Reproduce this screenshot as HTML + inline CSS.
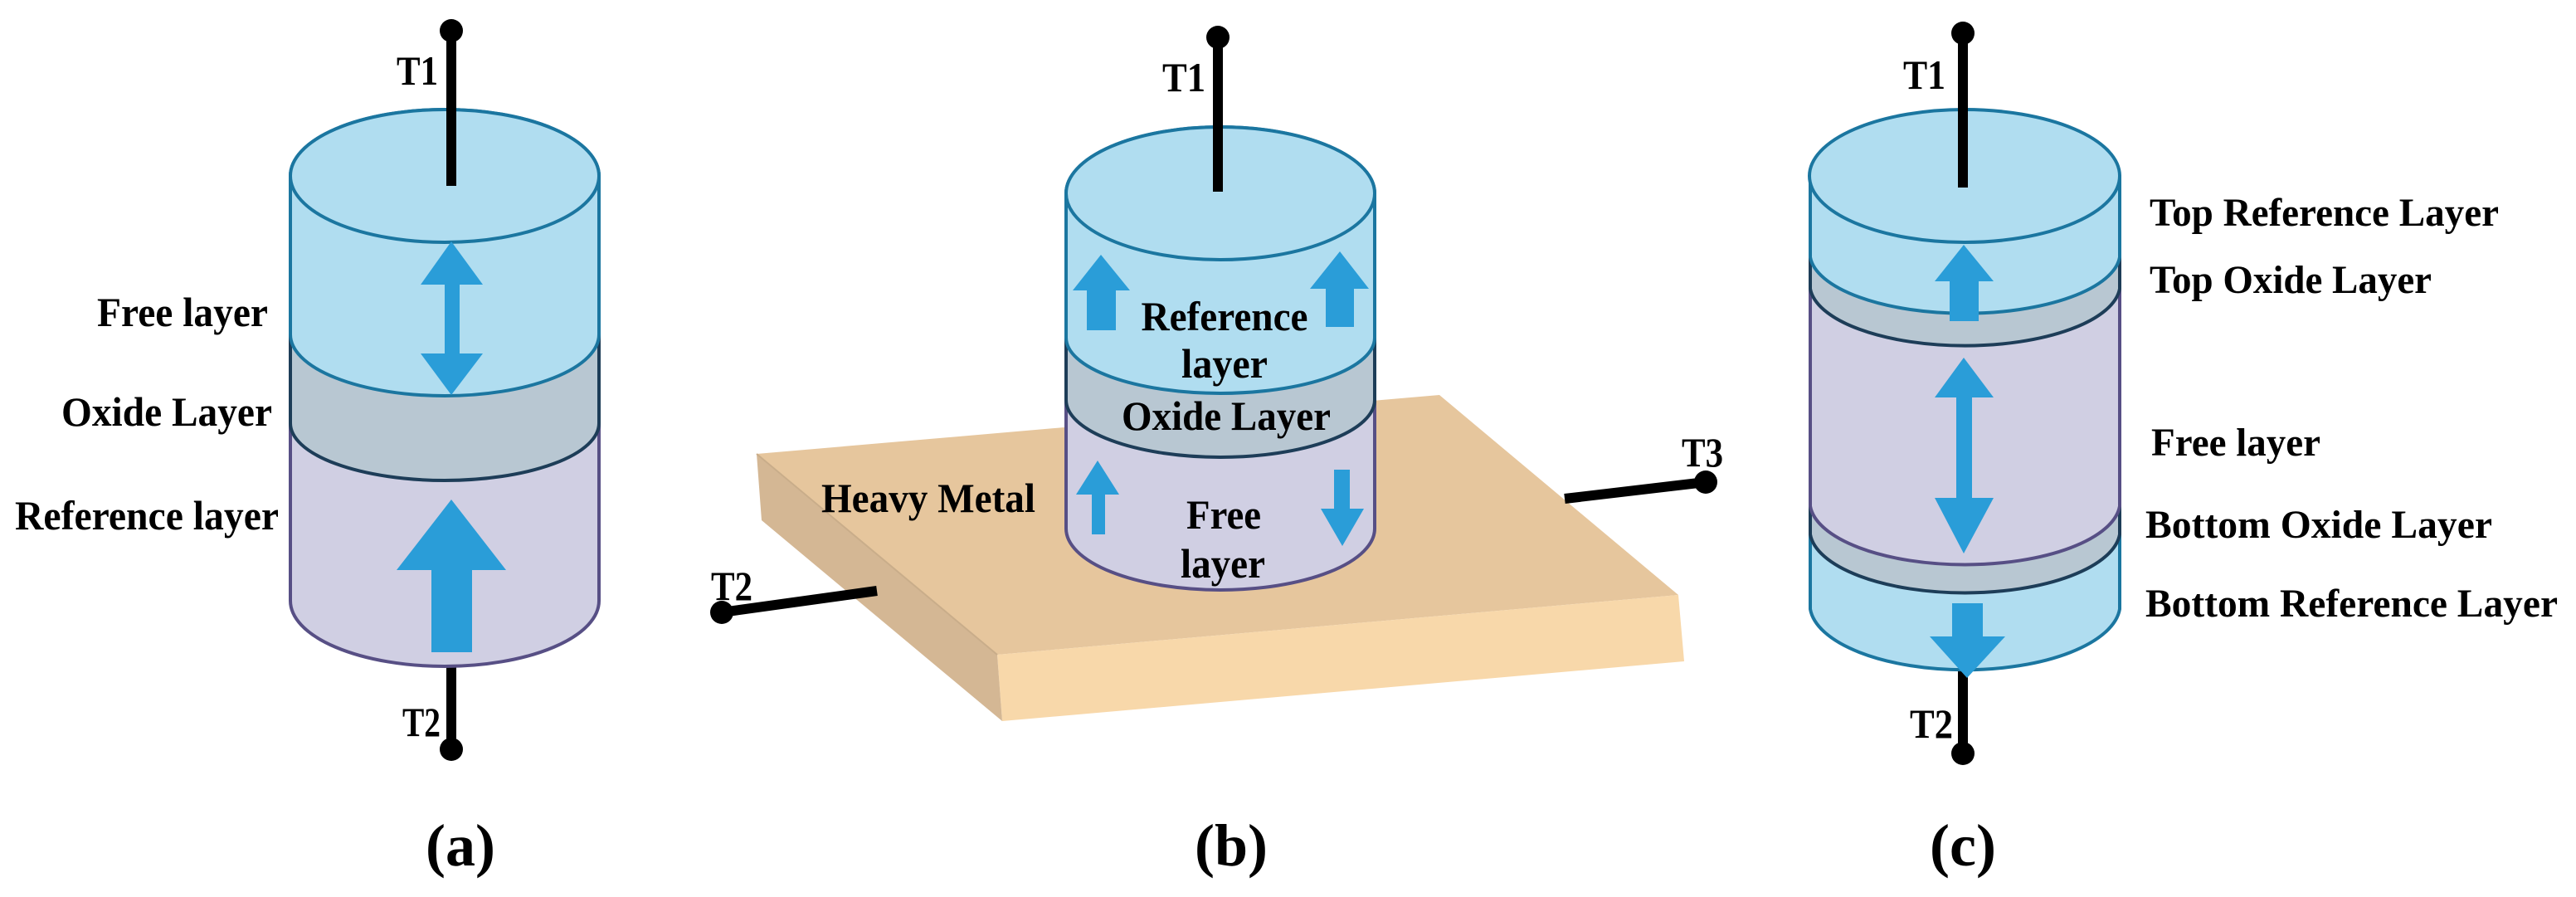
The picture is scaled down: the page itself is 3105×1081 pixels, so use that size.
<!DOCTYPE html>
<html><head><meta charset="utf-8"><style>
html,body{margin:0;padding:0;background:#fff;}
svg{display:block;}
svg text{font-family:"Liberation Serif","Times New Roman",serif;font-weight:bold;fill:#000;}
</style></head><body>
<svg width="3105" height="1081" viewBox="0 0 3105 1081" xmlns="http://www.w3.org/2000/svg" font-family="'Liberation Serif', serif" font-weight="bold">
<defs>
<style>
.bl{fill:#b0ddf0;stroke:#1b76a0;stroke-width:4}
.ox{fill:#b8c7d2;stroke:#1d3d58;stroke-width:4}
.lv{fill:#d0cfe3;stroke:#574f85;stroke-width:4}
.ar{fill:#2a9dd8}
.w{stroke:#000;stroke-width:12;fill:none}
</style>
</defs>

<!-- ===== (a) ===== -->
<line class="w" x1="544" y1="795" x2="544" y2="903"/>
<circle cx="544" cy="903" r="14"/>
<path class="lv" d="M350 510 A186 69 0 0 1 722 510 L722 724 A186 79 0 0 1 350 724 Z"/>
<path class="ox" d="M350 403 A186 74 0 0 1 722 403 L722 510 A186 69 0 0 1 350 510 Z"/>
<path class="bl" d="M350 212 A186 80 0 0 1 722 212 L722 403 A186 74 0 0 1 350 403 Z"/>
<ellipse class="bl" cx="536" cy="212" rx="186" ry="80"/>
<line class="w" x1="544" y1="37" x2="544" y2="224"/>
<circle cx="544" cy="37" r="14"/>
<polygon class="ar" points="544,291 582,343 554,343 554,426 582,426 544,476 507,426 536,426 536,343 507,343"/>
<polygon class="ar" points="544,602 610,687 569,687 569,786 520,786 520,687 478,687"/>
<text x="478" y="102" font-size="50" textLength="50" lengthAdjust="spacingAndGlyphs">T1</text>
<text x="485" y="887" font-size="50" textLength="46" lengthAdjust="spacingAndGlyphs">T2</text>
<text x="117" y="393" font-size="50" textLength="206" lengthAdjust="spacingAndGlyphs">Free layer</text>
<text x="74" y="513" font-size="50" textLength="254" lengthAdjust="spacingAndGlyphs">Oxide Layer</text>
<text x="18" y="638" font-size="50" textLength="318" lengthAdjust="spacingAndGlyphs">Reference layer</text>
<text x="555" y="1043" font-size="72" text-anchor="middle">(a)</text>

<!-- ===== (b) ===== -->
<polygon fill="#e6c69d" points="912,547 1735,476 2023,717 1202,789"/>
<polygon fill="#f8d8aa" points="1202,789 2023,717 2030,797 1208,869"/>
<polygon fill="#d4b794" points="912,547 918,627 1208,869 1202,789"/>
<line x1="912" y1="547" x2="1202" y2="789" stroke="#c9ad8a" stroke-width="2"/>
<line class="w" x1="870" y1="738" x2="1057" y2="712"/>
<circle cx="870" cy="738" r="14"/>
<line class="w" x1="1886" y1="601" x2="2056" y2="581"/>
<circle cx="2056" cy="581" r="14"/>
<text x="857" y="723" font-size="50" textLength="50" lengthAdjust="spacingAndGlyphs">T2</text>
<text x="2027" y="562" font-size="50" textLength="50" lengthAdjust="spacingAndGlyphs">T3</text>
<text x="990" y="617" font-size="50" textLength="258" lengthAdjust="spacingAndGlyphs">Heavy Metal</text>

<path class="lv" d="M1285 482 A186 69 0 0 1 1657 482 L1657 637 A186 74 0 0 1 1285 637 Z"/>
<path class="ox" d="M1285 407 A186 67 0 0 1 1657 407 L1657 482 A186 69 0 0 1 1285 482 Z"/>
<path class="bl" d="M1285 233 A186 80 0 0 1 1657 233 L1657 407 A186 67 0 0 1 1285 407 Z"/>
<ellipse class="bl" cx="1471" cy="233" rx="186" ry="80"/>
<line class="w" x1="1468" y1="45" x2="1468" y2="231"/>
<circle cx="1468" cy="45" r="14"/>
<text x="1401" y="110" font-size="50" textLength="52" lengthAdjust="spacingAndGlyphs">T1</text>
<polygon class="ar" points="1327,307 1362,350 1345,350 1345,398 1310,398 1310,350 1293,350"/>
<polygon class="ar" points="1615,303 1650,348 1632,348 1632,394 1598,394 1598,348 1579,348"/>
<polygon class="ar" points="1323,555 1349,596 1332,596 1332,644 1316,644 1316,596 1297,596"/>
<polygon class="ar" points="1608,566 1627,566 1627,613 1644,613 1618,658 1592,613 1608,613"/>
<text x="1476" y="398" font-size="50" text-anchor="middle" textLength="201" lengthAdjust="spacingAndGlyphs">Reference</text>
<text x="1476" y="455" font-size="50" text-anchor="middle" textLength="104" lengthAdjust="spacingAndGlyphs">layer</text>
<text x="1478" y="518" font-size="50" text-anchor="middle" textLength="252" lengthAdjust="spacingAndGlyphs">Oxide Layer</text>
<text x="1475" y="637" font-size="50" text-anchor="middle" textLength="90" lengthAdjust="spacingAndGlyphs">Free</text>
<text x="1474" y="696" font-size="50" text-anchor="middle" textLength="102" lengthAdjust="spacingAndGlyphs">layer</text>
<text x="1484" y="1043" font-size="72" text-anchor="middle">(b)</text>

<!-- ===== (c) ===== -->
<line class="w" x1="2366" y1="805" x2="2366" y2="908"/>
<circle cx="2366" cy="908" r="14"/>
<path class="bl" d="M2182 644 A187 76 0 0 1 2555 644 L2555 734 A187 79 0 0 1 2182 734 Z"/>
<path class="ox" d="M2182 610 A187 76 0 0 1 2555 610 L2555 644 A187 76 0 0 1 2182 644 Z"/>
<path class="lv" d="M2182 348 A187 74 0 0 1 2555 348 L2555 610 A187 76 0 0 1 2182 610 Z"/>
<path class="ox" d="M2182 310 A187 73 0 0 1 2555 310 L2555 348 A187 74 0 0 1 2182 348 Z"/>
<path class="bl" d="M2182 212 A187 80 0 0 1 2555 212 L2555 310 A187 73 0 0 1 2182 310 Z"/>
<ellipse class="bl" cx="2368" cy="212" rx="187" ry="80"/>
<line class="w" x1="2366" y1="40" x2="2366" y2="226"/>
<circle cx="2366" cy="40" r="14"/>
<polygon class="ar" points="2367,295 2403,339 2385,339 2385,387 2350,387 2350,339 2332,339"/>
<polygon class="ar" points="2367,431 2403,479 2377,479 2377,600 2403,600 2367,667 2332,600 2358,600 2358,479 2332,479"/>
<polygon class="ar" points="2353,727 2390,727 2390,767 2417,767 2371,817 2326,767 2353,767"/>
<text x="2294" y="107" font-size="50" textLength="51" lengthAdjust="spacingAndGlyphs">T1</text>
<text x="2302" y="889" font-size="50" textLength="52" lengthAdjust="spacingAndGlyphs">T2</text>
<text x="2591" y="272" font-size="48" textLength="421" lengthAdjust="spacingAndGlyphs">Top Reference Layer</text>
<text x="2591" y="353" font-size="48" textLength="340" lengthAdjust="spacingAndGlyphs">Top Oxide Layer</text>
<text x="2593" y="549" font-size="48" textLength="204" lengthAdjust="spacingAndGlyphs">Free layer</text>
<text x="2586" y="648" font-size="48" textLength="418" lengthAdjust="spacingAndGlyphs">Bottom Oxide Layer</text>
<text x="2586" y="743" font-size="48" textLength="497" lengthAdjust="spacingAndGlyphs">Bottom Reference Layer</text>
<text x="2366" y="1043" font-size="72" text-anchor="middle">(c)</text>
</svg>
</body></html>
